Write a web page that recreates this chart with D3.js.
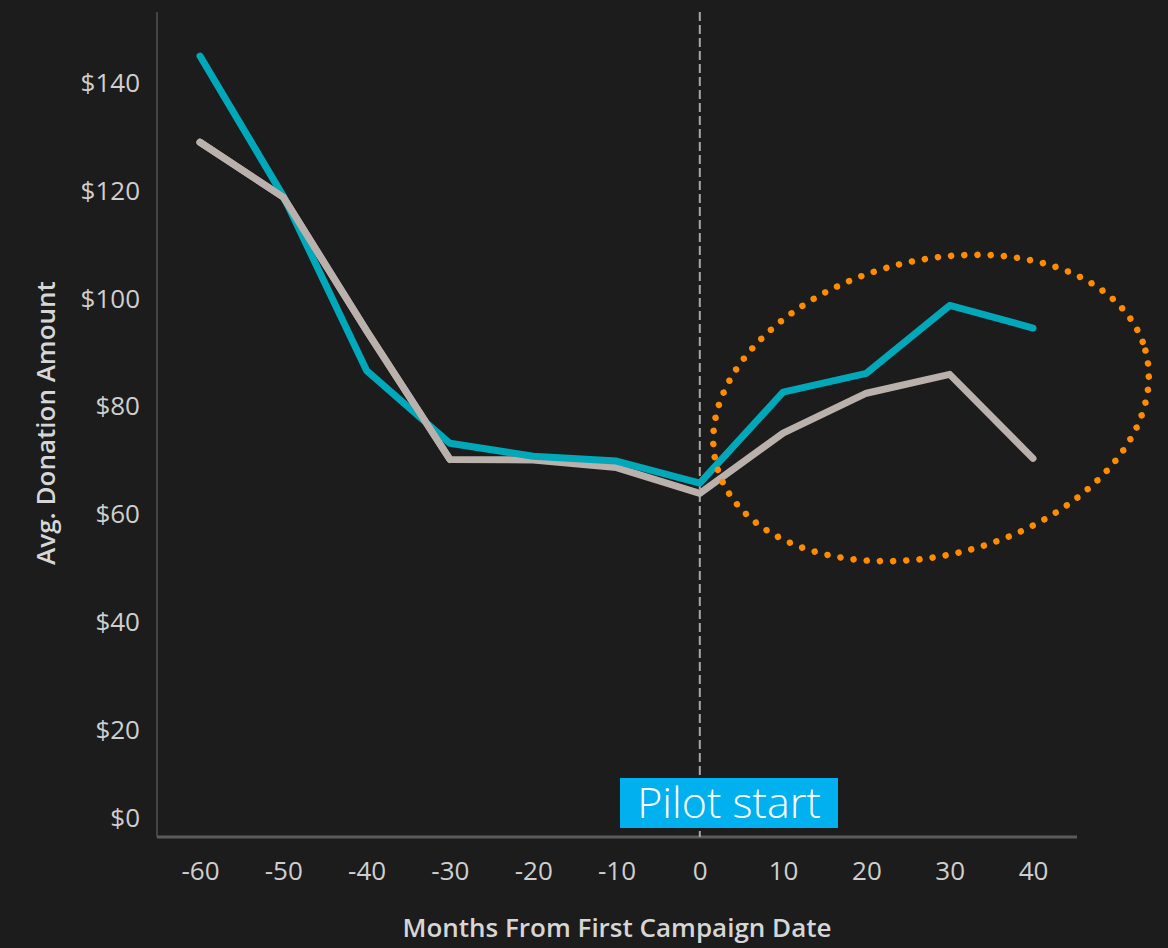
<!DOCTYPE html>
<html>
<head>
<meta charset="utf-8">
<script src="https://cdn.jsdelivr.net/npm/d3@7"></script>
<style>
  html, body { margin: 0; padding: 0; background: #1c1c1c; }
  svg { display: block; }
</style>
</head>
<body>
<script>
// Months relative to the first campaign date
const months = [-60, -50, -40, -30, -20, -10, 0, 10, 20, 30, 40];
// Average donation amount per group
const pilotGroup   = [145, 119, 86.6, 73.1, 70.7, 69.8, 65.7, 82.6, 86.1, 98.7, 94.5];
const controlGroup = [129, 118.8, 94, 70.1, 70, 68.6, 63.8, 75, 82.4, 85.9, 70.3];
const yTicks = [0, 20, 40, 60, 80, 100, 120, 140];
const xTicks = [-60, -50, -40, -30, -20, -10, 0, 10, 20, 30, 40];

const W = 1168, H = 948;
const plot = { left: 157, right: 1077, top: 12, bottom: 837 };

const svg = d3.select("body").append("svg")
  .attr("width", W).attr("height", H);

svg.append("rect").attr("width", W).attr("height", H).attr("fill", "#1c1c1c");

const x = d3.scaleLinear().domain([-60, 40]).range([200, 1033]);
const y = d3.scaleLinear().domain([0, 140]).range([plot.bottom, 83]);

const tickFont = "'Open Sans', 'Noto Sans', sans-serif";
const tickColor = "#cfcfcf";

// Y axis
const yAxis = svg.append("g").attr("transform", `translate(${plot.left},0)`)
  .call(d3.axisLeft(y).tickValues(yTicks).tickSize(0).tickPadding(17)
    .tickFormat(d => "$" + d));
yAxis.select(".domain").remove();
yAxis.selectAll("text")
  .attr("fill", tickColor).attr("font-family", tickFont).attr("font-size", 26)
  .attr("dy", d => d === 0 ? "-0.4em" : "0.34em");
svg.append("line")
  .attr("x1", plot.left).attr("x2", plot.left)
  .attr("y1", plot.top).attr("y2", plot.bottom)
  .attr("stroke", "#454545").attr("stroke-width", 2);

// X axis
const xAxis = svg.append("g").attr("transform", `translate(0,${plot.bottom})`)
  .call(d3.axisBottom(x).tickValues(xTicks).tickSize(0).tickPadding(25)
    .tickFormat(d => String(d)));
xAxis.select(".domain").remove();
xAxis.selectAll("text")
  .attr("fill", tickColor).attr("font-family", tickFont).attr("font-size", 26);
svg.append("line")
  .attr("x1", plot.left).attr("x2", plot.right)
  .attr("y1", plot.bottom).attr("y2", plot.bottom)
  .attr("stroke", "#5a5a5a").attr("stroke-width", 3);

// Axis titles
svg.append("text")
  .attr("x", 617).attr("y", 937)
  .attr("text-anchor", "middle")
  .attr("fill", "#d6d6d6").attr("font-family", tickFont)
  .attr("font-size", 26).attr("font-weight", 600)
  .text("Months From First Campaign Date");
svg.append("text")
  .attr("transform", "translate(55,423) rotate(-90)")
  .attr("text-anchor", "middle")
  .attr("fill", "#d6d6d6").attr("font-family", tickFont)
  .attr("font-size", 26).attr("font-weight", 600)
  .text("Avg. Donation Amount");

// Pilot start reference line
svg.append("line")
  .attr("x1", x(0)).attr("x2", x(0))
  .attr("y1", plot.top).attr("y2", plot.bottom)
  .attr("stroke", "#a8a8a8").attr("stroke-width", 2)
  .attr("stroke-dasharray", "9 4");

// Series lines
const line = d3.line().x((d, i) => x(months[i])).y(d => y(d));
svg.append("path").datum(controlGroup)
  .attr("d", line).attr("fill", "none")
  .attr("stroke", "#bab0ac").attr("stroke-width", 7)
  .attr("stroke-linecap", "round").attr("stroke-linejoin", "round");
svg.append("path").datum(pilotGroup)
  .attr("d", line).attr("fill", "none")
  .attr("stroke", "#00a8ba").attr("stroke-width", 7)
  .attr("stroke-linecap", "round").attr("stroke-linejoin", "round");
// control line drawn over the pilot on the early segment where it sits in front
svg.append("path").datum(controlGroup.slice(0, 4))
  .attr("d", line)
  .attr("fill", "none")
  .attr("stroke", "#bab0ac").attr("stroke-width", 7)
  .attr("stroke-linecap", "round").attr("stroke-linejoin", "round");

// Highlight ellipse around the post-pilot months
svg.append("ellipse")
  .attr("cx", 931).attr("cy", 408)
  .attr("rx", 222).attr("ry", 147)
  .attr("transform", "rotate(-15,931,408)")
  .attr("fill", "none")
  .attr("stroke", "#ff8c00").attr("stroke-width", 6.5)
  .attr("stroke-linecap", "round")
  .attr("stroke-dasharray", "0 13.2");

// Pilot start label
const lab = svg.append("g");
lab.append("rect")
  .attr("x", 620).attr("y", 778).attr("width", 218).attr("height", 50)
  .attr("fill", "#00b0ef");
lab.append("text")
  .attr("x", 729).attr("y", 818)
  .attr("text-anchor", "middle")
  .attr("fill", "#ffffff").attr("font-family", "'Open Sans', 'Noto Sans', sans-serif")
  .attr("font-size", 43).attr("font-weight", 300)
  .text("Pilot start");
</script>
</body>
</html>
